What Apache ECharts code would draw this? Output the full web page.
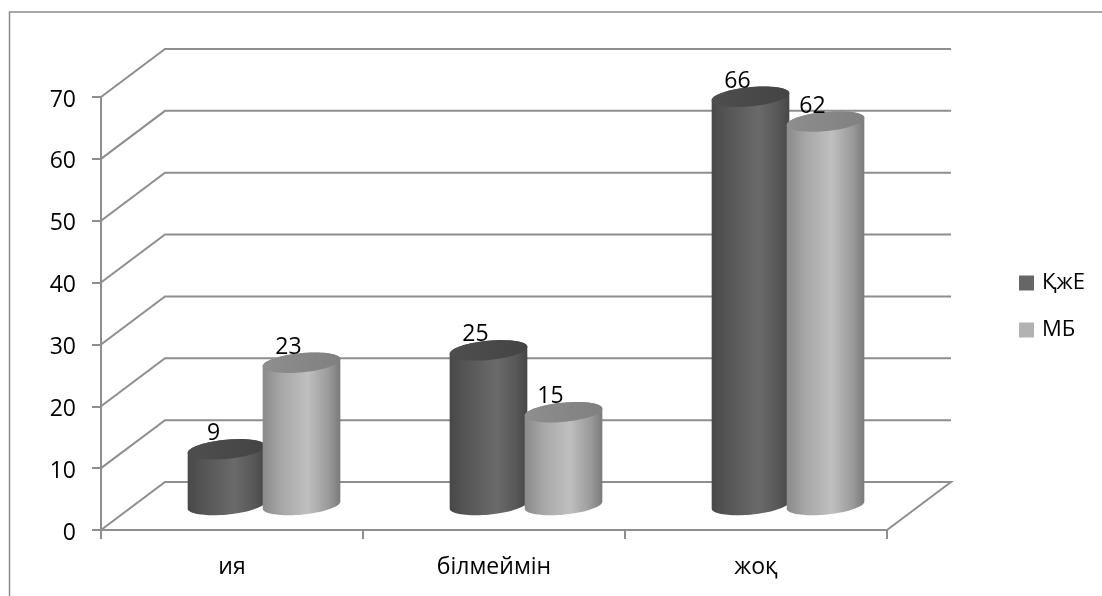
<!DOCTYPE html>
<html><head><meta charset="utf-8">
<style>html,body{margin:0;padding:0;background:#fff;overflow:hidden}#c{width:1102px;height:596px}</style>
<script src="https://cdn.jsdelivr.net/npm/echarts@6/dist/echarts.min.js"></script>
</head><body><div id="c"></div>
<script>
const categories = ['ия', 'білмеймін', 'жоқ'];
const seriesNames = ['ҚжЕ', 'МБ'];
const valuesKJE = [9, 25, 66];
const valuesMB = [23, 15, 62];
const yTicks = [0, 10, 20, 30, 40, 50, 60, 70];

const FONT = '"Open Sans"';
const LINE = '#8e8e8e';
const DEPTH_X = 64, DEPTH_Y = 48;
const FLOOR_X = 32, FLOOR_Y = 25;
const RX = 39, RY = 9.6, TILT = -5.5 * Math.PI / 180;

const chart = echarts.init(document.getElementById('c'), null, {renderer: 'canvas'});

function ell(cx, cy, t) {
  const c = Math.cos(TILT), s = Math.sin(TILT);
  const a = RX * Math.cos(t), b = RY * Math.sin(t);
  return [cx + a * c - b * s, cy + a * s + b * c];
}
function ellipsePts(cx, cy, from, to, n) {
  const out = [];
  for (let i = 0; i <= n; i++) out.push(ell(cx, cy, from + (to - from) * i / n));
  return out;
}
function grad(stops) {
  return {type: 'linear', x: 0, y: 0, x2: 1, y2: 0, global: false,
    colorStops: stops.map(([o, c]) => ({offset: o, color: c}))};
}
const looks = [
  {side: grad([[0, '#484848'], [0.2, '#555555'], [0.6, '#6a6a6a'], [0.85, '#585858'], [1, '#464646']]),
   top: grad([[0, '#4e4e4e'], [1, '#444444']])},
  {side: grad([[0, '#8a8a8a'], [0.25, '#a8a8a8'], [0.58, '#bfbfbf'], [0.85, '#9a9a9a'], [1, '#7a7a7a']]),
   top: grad([[0, '#8e8e8e'], [1, '#808080']])}
];

function cylinder(seriesIdx) {
  return function (params, api) {
    const i = api.value(0), v = api.value(1);
    const p = api.coord([i, v]), p0 = api.coord([i, 0]);
    const cx = p[0] + FLOOR_X + (seriesIdx === 0 ? -37.5 : 37.5);
    const topY = p[1] - FLOOR_Y, baseY = p0[1] - FLOOR_Y;
    const t0 = Math.atan2(-RY * Math.sin(TILT), RX * Math.cos(TILT)); // right silhouette
    const lower = ellipsePts(cx, baseY, t0, t0 + Math.PI, 40);
    const upperTop = ellipsePts(cx, topY, t0 + Math.PI, t0 + 2 * Math.PI, 40);
    const full = ellipsePts(cx, topY, 0, 2 * Math.PI, 80);
    return {type: 'group', children: [
      {type: 'polygon', shape: {points: lower.concat(upperTop)}, style: {fill: looks[seriesIdx].side}},
      {type: 'polygon', shape: {points: full}, style: {fill: looks[seriesIdx].top}},
      {type: 'text', z2: 50, style: {text: String(v), x: cx - 13, y: topY - 15.5, align: 'center',
        verticalAlign: 'middle', fill: '#000', font: '23px ' + FONT}}
    ]};
  };
}
function wall(params, api) {
  const v = api.value(1);
  const band = api.size([1, 0])[0];
  const p = api.coord([0, v]);
  const xl = p[0] - band / 2;
  const xr = xl + band * categories.length;
  const pts = [[xl, p[1]], [xl + DEPTH_X, p[1] - DEPTH_Y], [xr + DEPTH_X, p[1] - DEPTH_Y]];
  if (v === yTicks[0]) pts.push([xr, p[1]]);
  return {type: 'polyline', shape: {points: pts}, style: {stroke: LINE, lineWidth: 2, fill: 'none'}};
}

chart.setOption({
  animation: false,
  backgroundColor: '#fff',
  textStyle: {fontFamily: FONT},
  graphic: [{type: 'rect', silent: true, z: -10, shape: {x: 9.5, y: 12, width: 1300, height: 800},
    style: {fill: 'none', stroke: '#8a8a8a', lineWidth: 1.5}}],
  grid: {left: 101, right: 215, top: 97, bottom: 66, containLabel: false},
  legend: {
    orient: 'vertical', left: 1014, top: 267, itemWidth: 15, itemHeight: 15, itemGap: 25,
    icon: 'rect', data: seriesNames, selectedMode: false,
    textStyle: {fontFamily: FONT, fontSize: 22, color: '#000', padding: [0, 0, 0, 3]}
  },
  xAxis: {
    type: 'category', data: categories, boundaryGap: true,
    axisLine: {lineStyle: {color: LINE, width: 2}},
    axisTick: {show: true, length: 9, alignWithLabel: false, lineStyle: {color: LINE, width: 2}},
    axisLabel: {fontFamily: FONT, fontSize: 23, color: '#000', margin: 26, interval: 0},
    splitLine: {show: false}
  },
  yAxis: {
    type: 'value', min: 0, max: 70, interval: 10,
    axisLine: {show: true, lineStyle: {color: LINE, width: 2}},
    axisTick: {show: true, length: 9, lineStyle: {color: LINE, width: 2}},
    axisLabel: {fontFamily: FONT, fontSize: 23, color: '#000', margin: 25, verticalAlign: 'top', lineHeight: 6},
    splitLine: {show: false}
  },
  series: [
    {type: 'custom', name: '_wall', silent: true, z: 1, renderItem: wall, clip: false,
     data: yTicks.map(t => [0, t]), encode: {x: 0, y: 1}},
    {type: 'custom', name: seriesNames[0], z: 2, renderItem: cylinder(0), clip: false,
     itemStyle: {color: '#666666'}, data: valuesKJE.map((v, i) => [i, v]), encode: {x: 0, y: 1}},
    {type: 'custom', name: seriesNames[1], z: 3, renderItem: cylinder(1), clip: false,
     itemStyle: {color: '#b2b2b2'}, data: valuesMB.map((v, i) => [i, v]), encode: {x: 0, y: 1}}
  ]
});
</script></body></html>
